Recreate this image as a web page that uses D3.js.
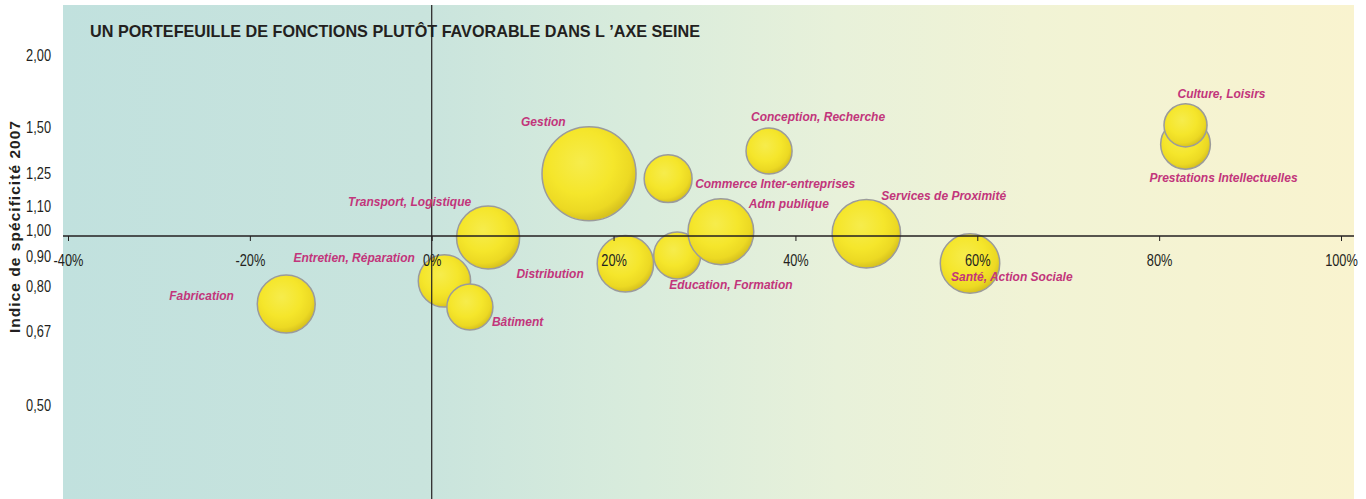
<!DOCTYPE html>
<html>
<head>
<meta charset="utf-8">
<script src="https://cdn.jsdelivr.net/npm/d3@7"></script>
<style>
    body { margin: 0; background: #fff; }
    svg { display: block; }
</style>
</head>
<body>
<div id="chart"></div>
<script>
// familles de fonctions
const fonctions = [
    'Fabrication', 'Entretien, Réparation', 'Bâtiment', 'Transport, Logistique',
    'Gestion', 'Commerce Inter-entreprises', 'Distribution', 'Education, Formation',
    'Adm publique', 'Conception, Recherche', 'Services de Proximité',
    'Santé, Action Sociale', 'Prestations Intellectuelles', 'Culture, Loisirs'
];
// évolution de l'emploi (x)
const evolution = [-0.160, 0.014, 0.042, 0.062, 0.173, 0.260, 0.213, 0.270, 0.318, 0.371, 0.478, 0.592, 0.829, 0.829];
// indice de spécificité 2007 (y)
const specificite = [0.764, 0.837, 0.755, 0.994, 1.28, 1.255, 0.896, 0.926, 1.017, 1.40, 1.009, 0.897, 1.438, 1.55];
// poids relatif (taille des bulles)
const effectifs = [38, 31, 24, 45, 100, 26, 36, 25, 49, 24, 53, 40, 28, 21];

const xTicks = [-0.4, -0.2, 0, 0.2, 0.4, 0.6, 0.8, 1.0];
const yTicks = [0.5, 0.67, 0.8, 0.9, 1.0, 1.1, 1.25, 1.5, 2.0];

// décalage des étiquettes par rapport au centre des bulles
const labelOffset = {
    'Fabrication': [-117, -8],
    'Entretien, Réparation': [-151, -23],
    'Bâtiment': [22, 15],
    'Transport, Logistique': [-140, -36],
    'Gestion': [-68, -52],
    'Commerce Inter-entreprises': [27, 5],
    'Distribution': [-109, 10],
    'Education, Formation': [-8, 30],
    'Adm publique': [28, -28],
    'Conception, Recherche': [-18, -34],
    'Services de Proximité': [15, -38],
    'Santé, Action Sociale': [-19, 14],
    'Prestations Intellectuelles': [-36, 34],
    'Culture, Loisirs': [-8, -31]
};

const data = fonctions.map((f, i) => ({
    name: f, x: evolution[i], y: specificite[i], size: effectifs[i]
}));

const width = 1366;
const height = 499;
const plot = { left: 63, right: 1354, top: 5, bottom: 499 };

const svg = d3.select('#chart')
    .append('svg')
    .attr('width', width)
    .attr('height', height);

const defs = svg.append('defs');

const bg = defs.append('linearGradient')
    .attr('id', 'bg')
    .attr('x1', 0).attr('x2', 1).attr('y1', 0).attr('y2', 0);
[
    [0, '#c1e1de'], [0.28, '#c9e4dd'], [0.45, '#d9ecdc'],
    [0.6, '#e8f1da'], [0.75, '#f1f3d5'], [1, '#f9f3cf']
].forEach(s => bg.append('stop').attr('offset', s[0]).attr('stop-color', s[1]));

const ball = defs.append('radialGradient')
    .attr('id', 'ball')
    .attr('cx', '42%').attr('cy', '38%').attr('r', '62%');
[
    [0, '#f6ec4c'], [0.55, '#f5e62b'], [0.85, '#ecd923'], [1, '#d8c31f']
].forEach(s => ball.append('stop').attr('offset', s[0]).attr('stop-color', s[1]));

const x = d3.scaleLinear().domain([-0.4, 1.0]).range([68, 1341]);
const y = d3.scaleLog().domain([0.5, 2]).range([411, 61]);
const r = d3.scaleSqrt().domain([0, 100]).range([0, 47]);

svg.append('rect')
    .attr('x', plot.left)
    .attr('y', plot.top)
    .attr('width', plot.right - plot.left)
    .attr('height', plot.bottom - plot.top)
    .attr('fill', 'url(#bg)');

svg.append('text')
    .attr('x', 90)
    .attr('y', 37)
    .attr('font-family', 'Liberation Sans, Arial, sans-serif')
    .attr('font-weight', 'bold')
    .attr('font-size', 16.2)
    .attr('fill', '#231f20')
    .text('UN PORTEFEUILLE DE FONCTIONS PLUTÔT FAVORABLE DANS L \u2019AXE SEINE');

// bulles
svg.append('g')
    .selectAll('circle')
    .data(data)
    .join('circle')
    .attr('cx', d => x(d.x))
    .attr('cy', d => y(d.y))
    .attr('r', d => r(d.size))
    .attr('fill', 'url(#ball)')
    .attr('stroke', '#9b9b9b')
    .attr('stroke-width', 1.5);

// axe horizontal (indice = 1)
const xAxis = d3.axisBottom(x)
    .tickValues(xTicks)
    .tickSize(5)
    .tickPadding(14)
    .tickFormat(d => Math.round(d * 100) + '%');

const gx = svg.append('g')
    .attr('transform', `translate(0,${y(1)})`)
    .call(xAxis);
gx.select('.domain').remove();
gx.selectAll('.tick line').attr('stroke', '#231f20');
gx.selectAll('.tick text')
    .attr('font-family', 'Liberation Sans, Arial, sans-serif')
    .attr('font-size', 16)
    .attr('transform', 'scale(0.8,1)')
    .attr('fill', '#231f20');

svg.append('line')
    .attr('x1', plot.left).attr('x2', plot.right)
    .attr('y1', y(1)).attr('y2', y(1))
    .attr('stroke', '#231f20')
    .attr('stroke-width', 1.5);

// axe vertical (0 %)
svg.append('line')
    .attr('x1', x(0)).attr('x2', x(0))
    .attr('y1', plot.top).attr('y2', plot.bottom)
    .attr('stroke', '#231f20')
    .attr('stroke-width', 1.2);

const fr = d3.formatLocale({ decimal: ',', thousands: ' ', grouping: [3], currency: ['', '€'] });

const yAxis = d3.axisLeft(y)
    .tickValues(yTicks)
    .tickSize(0)
    .tickPadding(0)
    .tickFormat(fr.format('.2f'));

const gy = svg.append('g')
    .attr('transform', 'translate(51,-6)')
    .call(yAxis);
gy.select('.domain').remove();
gy.selectAll('.tick text')
    .attr('font-family', 'Liberation Sans, Arial, sans-serif')
    .attr('font-size', 16)
    .attr('transform', 'scale(0.8,1)')
    .attr('fill', '#231f20');

svg.append('text')
    .attr('transform', 'translate(20,227) rotate(-90)')
    .attr('text-anchor', 'middle')
    .attr('font-family', 'Liberation Sans, Arial, sans-serif')
    .attr('font-weight', 'bold')
    .attr('font-size', 15.5)
    .attr('textLength', 212)
    .attr('lengthAdjust', 'spacing')
    .attr('fill', '#231f20')
    .text('Indice de spécificité 2007');

// étiquettes
svg.append('g')
    .selectAll('text')
    .data(data)
    .join('text')
    .attr('x', d => x(d.x) + labelOffset[d.name][0])
    .attr('y', d => y(d.y) + labelOffset[d.name][1] + 4)
    .attr('font-family', 'Liberation Sans, Arial, sans-serif')
    .attr('font-weight', 'bold')
    .attr('font-style', 'italic')
    .attr('font-size', 12)
    .attr('fill', '#c2357b')
    .text(d => d.name);
</script>
</body>
</html>
